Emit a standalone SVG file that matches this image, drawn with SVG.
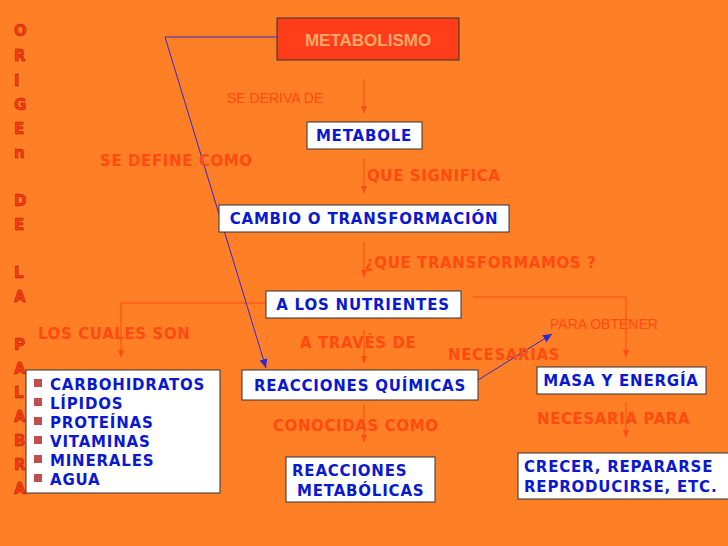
<svg xmlns="http://www.w3.org/2000/svg" width="728" height="546" viewBox="0 0 728 546">
<defs>
<marker id="ar" markerWidth="8" markerHeight="8" refX="7" refY="4" orient="auto" markerUnits="userSpaceOnUse"><path d="M0,1 L7,4 L0,7 Z" fill="#ff4a10"/></marker>
<marker id="ab" markerWidth="10" markerHeight="10" refX="9" refY="5" orient="auto" markerUnits="userSpaceOnUse"><path d="M0,1 L9,5 L0,9 Z" fill="#2a2ad0"/></marker>
</defs>
<style>
.bx{fill:#fff;stroke:#333;stroke-width:1}
.bt{font-family:"DejaVu Sans",sans-serif;font-weight:bold;font-size:15px;letter-spacing:0.8px;fill:#0a18d0}
.lb{font-family:"DejaVu Sans",sans-serif;font-weight:bold;font-size:15px;letter-spacing:0.6px;fill:#ff4a10}
.lr{font-family:"Liberation Sans",Arial,sans-serif;font-size:14px;fill:#ff4a10}
.ln{fill:none;stroke:#ff4a10;stroke-width:1}
.bl{fill:none;stroke:#2a2ad0;stroke-width:1}
.vl{font-family:"DejaVu Sans",sans-serif;font-weight:bold;font-size:15px;fill:#ff3a10;stroke:#a02000;stroke-width:0.5}
</style>
<rect width="728" height="546" fill="#ff7f27"/>
<g id="side">
<text class="vl" x="14" y="36">O</text><text class="vl" x="14" y="61">R</text><text class="vl" x="14" y="86">I</text><text class="vl" x="14" y="110">G</text><text class="vl" x="14" y="134">E</text><text class="vl" x="14" y="158">n</text>
<text class="vl" x="14" y="206">D</text><text class="vl" x="14" y="230">E</text>
<text class="vl" x="14" y="278">L</text><text class="vl" x="14" y="302">A</text>
<text class="vl" x="14" y="350">P</text><text class="vl" x="14" y="374">A</text><text class="vl" x="14" y="398">L</text><text class="vl" x="14" y="422">A</text><text class="vl" x="14" y="446">B</text><text class="vl" x="14" y="470">R</text><text class="vl" x="14" y="494">A</text>
</g>
<g id="connectors">
<line class="ln" x1="364" y1="79" x2="364" y2="113" marker-end="url(#ar)"/>
<line class="ln" x1="364" y1="158" x2="364" y2="193" marker-end="url(#ar)"/>
<line class="ln" x1="364" y1="242" x2="364" y2="277" marker-end="url(#ar)"/>
<polyline class="ln" points="266,303 121,303 121,357" marker-end="url(#ar)"/>
<polyline class="ln" points="473,297 626,297 626,357" marker-end="url(#ar)"/>
<line class="ln" x1="364" y1="330" x2="364" y2="363" marker-end="url(#ar)"/>
<line class="ln" x1="364" y1="405" x2="364" y2="442" marker-end="url(#ar)"/>
<line class="ln" x1="626" y1="402" x2="626" y2="437" marker-end="url(#ar)"/>
<polyline class="bl" points="277,37 165,37 266,368" marker-end="url(#ab)"/>
<line class="bl" x1="478" y1="380" x2="552" y2="334" marker-end="url(#ab)"/>
</g>
<g id="labels">
<text class="lr" x="227" y="103">SE DERIVA DE</text>
<text class="lb" x="100" y="166">SE DEFINE COMO</text>
<text class="lb" x="367" y="181">QUE SIGNIFICA</text>
<text class="lb" x="365" y="268">¿QUE TRANSFORMAMOS ?</text>
<text class="lb" x="38" y="339">LOS CUALES SON</text>
<text class="lb" x="300" y="348">A TRAVÉS DE</text>
<text class="lb" x="448" y="360">NECESARIAS</text>
<text class="lr" x="550" y="329">PARA OBTENER</text>
<text class="lb" x="273" y="431">CONOCIDAS COMO</text>
<text class="lb" x="537" y="424">NECESARIA PARA</text>
</g>
<g id="n-metabolismo"><rect x="277" y="18" width="182" height="42" fill="#ff3d1a" stroke="#333"/><text x="368" y="46" text-anchor="middle" font-family="Liberation Sans,Arial,sans-serif" font-weight="bold" font-size="17" fill="#ffa868">METABOLISMO</text></g>
<g id="n-metabole"><rect class="bx" x="307" y="122" width="115" height="27"/><text class="bt" x="364" y="141" text-anchor="middle">METABOLE</text></g>
<g id="n-cambio"><rect class="bx" x="219" y="205" width="290" height="27"/><text class="bt" x="364" y="224" text-anchor="middle">CAMBIO O TRANSFORMACIÓN</text></g>
<g id="n-nutrientes"><rect class="bx" x="266" y="291" width="195" height="27"/><text class="bt" x="363" y="310" text-anchor="middle">A LOS NUTRIENTES</text></g>
<g id="n-reacciones"><rect class="bx" x="242" y="370" width="236" height="30"/><text class="bt" x="360" y="391" text-anchor="middle">REACCIONES QUÍMICAS</text></g>
<g id="n-masa"><rect class="bx" x="537" y="367" width="169" height="27"/><text class="bt" x="621" y="386" text-anchor="middle">MASA Y ENERGÍA</text></g>
<g id="n-metabolicas"><rect class="bx" x="286" y="457" width="149" height="45"/><text class="bt" x="292" y="476">REACCIONES</text><text class="bt" x="297" y="496">METABÓLICAS</text></g>
<g id="n-crecer"><rect class="bx" x="518" y="453" width="212" height="46"/><text class="bt" x="524" y="472">CRECER, REPARARSE</text><text class="bt" x="524" y="492">REPRODUCIRSE, ETC.</text></g>
<g id="n-lista"><rect class="bx" x="26" y="370" width="194" height="123"/>
<g fill="#c05050"><rect x="34" y="379" width="8" height="8"/><rect x="34" y="398" width="8" height="8"/><rect x="34" y="417" width="8" height="8"/><rect x="34" y="436" width="8" height="8"/><rect x="34" y="455" width="8" height="8"/><rect x="34" y="474" width="8" height="8"/></g>
<text class="bt" x="50" y="390">CARBOHIDRATOS</text><text class="bt" x="50" y="409">LÍPIDOS</text><text class="bt" x="50" y="428">PROTEÍNAS</text><text class="bt" x="50" y="447">VITAMINAS</text><text class="bt" x="50" y="466">MINERALES</text><text class="bt" x="50" y="485">AGUA</text>
</g>
</svg>
